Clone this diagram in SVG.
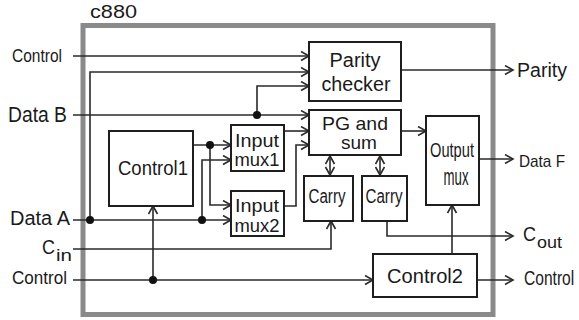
<svg xmlns="http://www.w3.org/2000/svg" width="579" height="320" viewBox="0 0 579 320">
<defs>
<style>
.t{font-family:"Liberation Sans",Arial,sans-serif;fill:#1a1a1a}
.m{text-anchor:middle}
.box{fill:#fff;stroke:#1e1e1e;stroke-width:2}
.ln{fill:none;stroke:#2a2a2a;stroke-width:1.6}
.arr{marker-end:url(#ah)}
.dbl{marker-end:url(#ah);marker-start:url(#ahs)}
.dot{fill:#111}
</style>
<marker id="ah" markerUnits="userSpaceOnUse" markerWidth="12" markerHeight="12" refX="9" refY="5" orient="auto" viewBox="0 0 12 12">
<path d="M1,0.5 L9,5 L1,9.5" fill="none" stroke="#2a2a2a" stroke-width="1.6"/>
</marker>
<marker id="ahs" markerUnits="userSpaceOnUse" markerWidth="12" markerHeight="12" refX="9" refY="5" orient="auto-start-reverse" viewBox="0 0 12 12">
<path d="M1,0.5 L9,5 L1,9.5" fill="none" stroke="#2a2a2a" stroke-width="1.6"/>
</marker>
</defs>
<rect width="579" height="320" fill="#fff"/>
<g id="frame">
<rect x="83" y="25.5" width="410" height="289" fill="none" stroke="#8a8a8a" stroke-width="5"/>
<text class="t" x="90" y="18" font-size="19" textLength="47" lengthAdjust="spacingAndGlyphs">c880</text>
</g>
<g id="connectors">
<path class="ln arr" d="M73,56 H309"/>
<path class="ln arr" d="M90,220 V72 H309"/>
<path class="ln arr" d="M257,115 V86 H309"/>
<path class="ln arr" d="M73,115 H309"/>
<path class="ln arr" d="M73,220 H231"/>
<path class="ln arr" d="M202,220 V160 H231"/>
<path class="ln arr" d="M193,145 H231"/>
<path class="ln arr" d="M210,145 V205 H231"/>
<path class="ln arr" d="M284,131 H309"/>
<path class="ln arr" d="M284,206 H296 V145 H309"/>
<path class="ln arr" d="M401,131 H426"/>
<path class="ln dbl" d="M330,156 V175"/>
<path class="ln dbl" d="M380,156 V175"/>
<path class="ln arr" d="M73,249 H331 V221"/>
<path class="ln arr" d="M387,221 V236 H513"/>
<path class="ln arr" d="M73,280 H373"/>
<path class="ln arr" d="M153,280 V206"/>
<path class="ln arr" d="M452,254 V205"/>
<path class="ln arr" d="M477,280 H513"/>
<path class="ln arr" d="M479,159 H513"/>
<path class="ln arr" d="M401,70 H513"/>
<circle class="dot" cx="90" cy="220" r="4"/>
<circle class="dot" cx="202" cy="220" r="4"/>
<circle class="dot" cx="210" cy="145" r="4"/>
<circle class="dot" cx="257" cy="115" r="4"/>
<circle class="dot" cx="153" cy="280" r="4"/>
</g>
<g id="labels">
<text class="t" x="12" y="62" font-size="19" textLength="50" lengthAdjust="spacingAndGlyphs">Control</text>
<text class="t" x="8" y="122" font-size="22" textLength="59" lengthAdjust="spacingAndGlyphs">Data B</text>
<text class="t" x="10" y="225" font-size="20" textLength="60" lengthAdjust="spacingAndGlyphs">Data A</text>
<text class="t" x="42" y="254" font-size="20" textLength="13" lengthAdjust="spacingAndGlyphs">C</text>
<text class="t" x="56" y="261" font-size="17" textLength="16" lengthAdjust="spacingAndGlyphs">in</text>
<text class="t" x="12" y="284" font-size="19" textLength="55" lengthAdjust="spacingAndGlyphs">Control</text>
<text class="t" x="517" y="77" font-size="20" textLength="50" lengthAdjust="spacingAndGlyphs">Parity</text>
<text class="t" x="519" y="167" font-size="17" textLength="46" lengthAdjust="spacingAndGlyphs">Data F</text>
<text class="t" x="523" y="241" font-size="21" textLength="13" lengthAdjust="spacingAndGlyphs">C</text>
<text class="t" x="537" y="248" font-size="17" textLength="25" lengthAdjust="spacingAndGlyphs">out</text>
<text class="t" transform="translate(524,285) scale(0.78,1)" font-size="20">Control</text>
</g>
<g id="parity-checker">
<rect class="box" x="309" y="42" width="92" height="59"/>
<text class="t m" x="355" y="67" font-size="20" textLength="51" lengthAdjust="spacingAndGlyphs">Parity</text>
<text class="t m" x="356" y="91" font-size="20" textLength="69" lengthAdjust="spacingAndGlyphs">checker</text>
</g>
<g id="pg-sum">
<rect class="box" x="309" y="110" width="92" height="45"/>
<text class="t m" x="355" y="130" font-size="19" textLength="66" lengthAdjust="spacingAndGlyphs">PG and</text>
<text class="t m" x="359" y="149" font-size="19" textLength="36" lengthAdjust="spacingAndGlyphs">sum</text>
</g>
<g id="input-mux1">
<rect class="box" x="231" y="125" width="53" height="46"/>
<text class="t m" x="257" y="147" font-size="19" textLength="44" lengthAdjust="spacingAndGlyphs">Input</text>
<text class="t m" x="257" y="166" font-size="19" textLength="45" lengthAdjust="spacingAndGlyphs">mux1</text>
</g>
<g id="input-mux2">
<rect class="box" x="231" y="191" width="53" height="45"/>
<text class="t m" x="257" y="212" font-size="19" textLength="44" lengthAdjust="spacingAndGlyphs">Input</text>
<text class="t m" x="257" y="232" font-size="19" textLength="45" lengthAdjust="spacingAndGlyphs">mux2</text>
</g>
<g id="control1">
<rect class="box" x="109" y="131" width="84" height="75"/>
<text class="t m" x="153" y="175" font-size="20" textLength="70" lengthAdjust="spacingAndGlyphs">Control1</text>
</g>
<g id="carry1">
<rect class="box" x="304" y="176" width="49" height="45"/>
<text class="t m" x="327" y="203" font-size="20" textLength="37" lengthAdjust="spacingAndGlyphs">Carry</text>
</g>
<g id="carry2">
<rect class="box" x="362" y="176" width="45" height="45"/>
<text class="t m" x="384" y="203" font-size="20" textLength="37" lengthAdjust="spacingAndGlyphs">Carry</text>
</g>
<g id="output-mux">
<rect class="box" x="426" y="116" width="53" height="89"/>
<text class="t m" x="452" y="157" font-size="21" textLength="44" lengthAdjust="spacingAndGlyphs">Output</text>
<text class="t m" x="456" y="185" font-size="23" textLength="25" lengthAdjust="spacingAndGlyphs">mux</text>
</g>
<g id="control2">
<rect class="box" x="373" y="254" width="104" height="43"/>
<text class="t m" x="425" y="283" font-size="21" textLength="76" lengthAdjust="spacingAndGlyphs">Control2</text>
</g>
</svg>
